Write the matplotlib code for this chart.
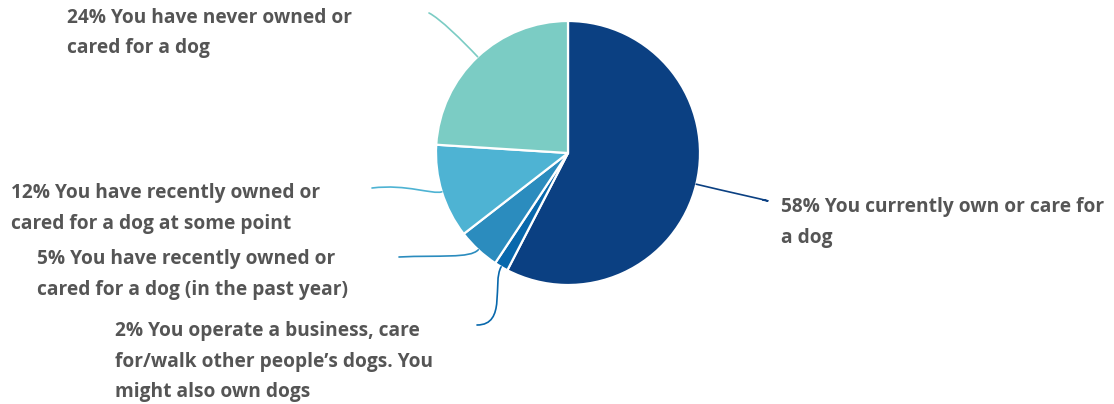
import numpy as np
import matplotlib
matplotlib.use("Agg")
import matplotlib.pyplot as plt
from matplotlib.path import Path
from matplotlib.patches import PathPatch

# shares (labels carry the rounded numbers)
shares = [57.6, 1.7, 5.2, 11.5, 24.0]
labels = [
    ["58% You currently own or care for", "a dog"],
    ["2% You operate a business, care", "for/walk other people\u2019s dogs. You", "might also own dogs"],
    ["5% You have recently owned or", "cared for a dog (in the past year)"],
    ["12% You have recently owned or", "cared for a dog at some point"],
    ["24% You have never owned or", "cared for a dog"],
]
colors = ["#0b4082", "#0868ac", "#2b8cbe", "#4eb3d3", "#7bccc4"]

# layout in pixel coordinates (y down)
W, H = 1114, 404
cx, cy, R = 568, 153, 132
text_pos = [(781, 212), (115, 336), (37, 264), (11, 198), (67, 23)]
line_end = [(763, 200), (477, 325), (399, 257), (372, 188), (429, 13)]
ctrl = [  # (outward length at wedge, pull length at end, end direction)
    (25, 25, (-1, -0.2)),
    (18, 30, (-1, 0.0)),
    (12, 40, (-1, 0.05)),
    (10, 35, (-1, 0.12)),
    (22, 12, (-1, -0.5)),
]
text_color = "#555555"
font = ["Open Sans", "DejaVu Sans"]

fig = plt.figure(figsize=(W / 100, H / 100), dpi=100)
ax = fig.add_axes([0, 0, 1, 1])

# y axis points down, so counterclock=True draws clockwise on screen
wedges, _ = ax.pie(shares, colors=colors, startangle=-90, counterclock=True,
                   center=(cx, cy), radius=R, frame=True,
                   wedgeprops=dict(edgecolor="white", linewidth=1.6))
ax.set_xlim(0, W)
ax.set_ylim(H, 0)
ax.set_aspect("equal")
ax.axis("off")

for w, c, (x_end, y_end), (d0, d1, (ex, ey)), lines, (tx, ty) in zip(
        wedges, colors, line_end, ctrl, labels, text_pos):
    a = np.deg2rad((w.theta1 + w.theta2) / 2)
    ux, uy = np.cos(a), np.sin(a)
    p0 = (cx + R * ux, cy + R * uy)
    p1 = (p0[0] + d0 * ux, p0[1] + d0 * uy)
    n = np.hypot(ex, ey)
    p2 = (x_end - d1 * ex / n, y_end - d1 * ey / n)
    path = Path([p0, p1, p2, (x_end, y_end)],
                [Path.MOVETO, Path.CURVE4, Path.CURVE4, Path.CURVE4])
    ax.add_patch(PathPatch(path, fill=False, edgecolor=c, linewidth=1.2,
                           capstyle="round"))
    for i, s in enumerate(lines):
        ax.text(tx, ty + 30.5 * i, s, fontsize=13.8, fontweight="bold",
                color=text_color, family=font, ha="left", va="baseline")

fig.savefig("out.png", dpi=100)
